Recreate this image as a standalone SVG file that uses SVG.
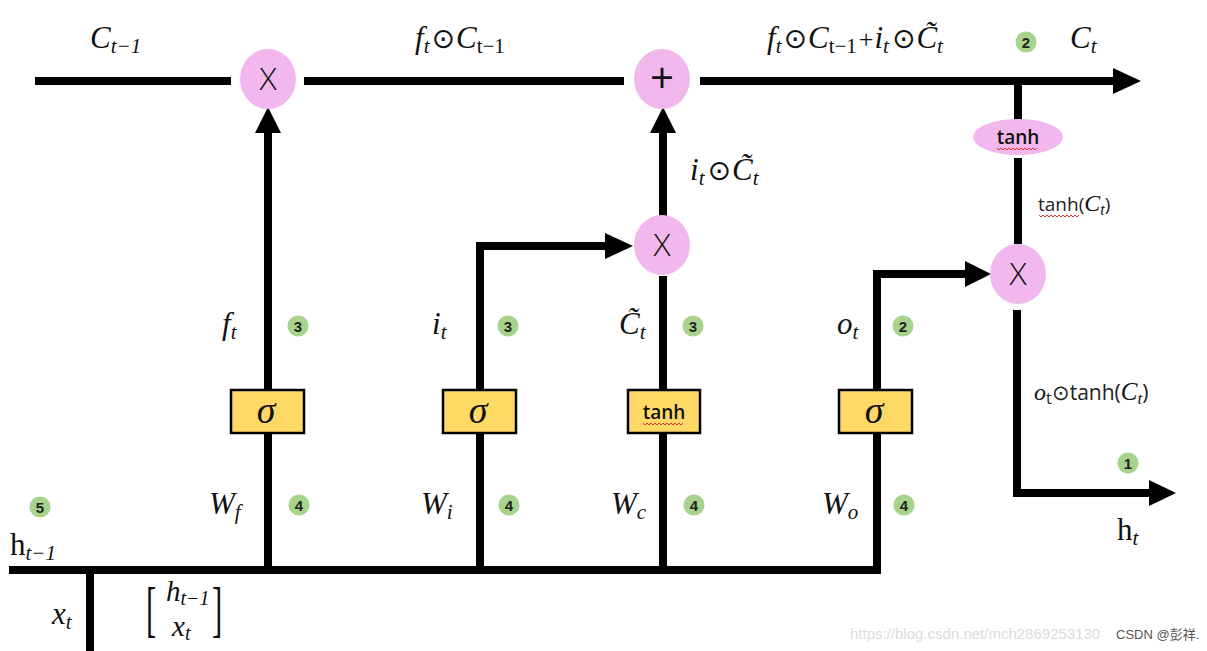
<svg xmlns="http://www.w3.org/2000/svg" width="1207" height="651" viewBox="0 0 1207 651">
<style>
.ln{stroke:#000;stroke-width:8;fill:none;stroke-linejoin:miter;stroke-linecap:butt}
.ah{fill:#000}
.op{fill:#f2b8ee}
.box{fill:#ffd966;stroke:#000;stroke-width:2.5}
.opt{font-family:"Open Sans","Liberation Sans",sans-serif;font-weight:300;font-size:32px;fill:#111;text-anchor:middle}
.m{font-family:"Liberation Serif","DejaVu Serif",serif;font-style:italic;font-size:31px;fill:#111}
.s{font-size:21px}
.up{font-style:normal}
.od{font-family:"DejaVu Sans",sans-serif;font-style:normal;font-size:28px}
.sig{font-family:"Liberation Serif","DejaVu Serif",serif;font-style:italic;font-size:38px;fill:#111;text-anchor:middle}
.tn{font-family:"Open Sans","Liberation Sans",sans-serif;font-weight:600;font-size:19px;fill:#111;text-anchor:middle}
.sn{font-family:"Open Sans","Liberation Sans",sans-serif;font-size:19px;fill:#222}
.g{fill:#a8d38d}
.gt{font-family:"Liberation Sans",Arial,sans-serif;font-weight:bold;font-size:15px;fill:#222;text-anchor:middle}
.wav{stroke:#e03030;stroke-width:1;fill:none}
</style>
<defs>
<path id="wv" d="M0,0 l2,2 l2,-2 l2,2 l2,-2 l2,2 l2,-2 l2,2 l2,-2 l2,2 l2,-2 l2,2 l2,-2 l2,2 l2,-2 l2,2 l2,-2 l2,2 l2,-2 l2,2 l2,-2"/>
</defs>

<g id="connectors">
  <line class="ln" x1="35" y1="81" x2="231" y2="81"/>
  <line class="ln" x1="304" y1="81" x2="624" y2="81"/>
  <line class="ln" x1="700" y1="81" x2="1114" y2="81"/>
  <polygon class="ah" points="1113,68 1141,81 1113,94"/>
  <line class="ln" x1="268" y1="570" x2="268" y2="132"/>
  <polygon class="ah" points="255,133 268,107 281,133"/>
  <polyline class="ln" points="480,570 480,246 606,246"/>
  <polygon class="ah" points="605,233 633,246 605,259"/>
  <line class="ln" x1="663" y1="570" x2="663" y2="276"/>
  <line class="ln" x1="663" y1="216" x2="663" y2="132"/>
  <polygon class="ah" points="650,133 663,107 676,133"/>
  <polyline class="ln" points="9,570 877,570 877,274 966,274"/>
  <polygon class="ah" points="965,261 991,274 965,287"/>
  <line class="ln" x1="90" y1="570" x2="90" y2="651"/>
  <line class="ln" x1="1018" y1="81" x2="1018" y2="121"/>
  <line class="ln" x1="1018" y1="158" x2="1018" y2="244"/>
  <polyline class="ln" points="1017,310 1017,493 1150,493"/>
  <polygon class="ah" points="1149,480 1176,493 1149,506"/>
</g>

<g id="mul-forget">
  <ellipse class="op" cx="268" cy="79" rx="28" ry="30"/>
  <text class="opt" x="268" y="90">X</text>
</g>
<g id="add-cell">
  <ellipse class="op" cx="662" cy="79" rx="28" ry="30"/>
  <text class="opt" x="662" y="93" style="font-size:42px;font-weight:400">+</text>
</g>
<g id="mul-input">
  <ellipse class="op" cx="662" cy="245" rx="28" ry="30"/>
  <text class="opt" x="662" y="256">X</text>
</g>
<g id="mul-output">
  <ellipse class="op" cx="1018" cy="274" rx="28" ry="30"/>
  <text class="opt" x="1018" y="285">X</text>
</g>
<g id="tanh-cell">
  <ellipse class="op" cx="1018" cy="137" rx="45" ry="18"/>
  <text class="tn" x="1018" y="144">tanh</text>
  <use href="#wv" x="997" y="148" class="wav"/>
</g>
<g id="sigma-f">
  <rect class="box" x="231" y="390" width="73" height="43"/>
  <text class="sig" x="266" y="423">σ</text>
</g>
<g id="sigma-i">
  <rect class="box" x="443" y="390" width="73" height="43"/>
  <text class="sig" x="478" y="423">σ</text>
</g>
<g id="tanh-c">
  <rect class="box" x="628" y="390" width="72" height="43"/>
  <text class="tn" x="664" y="419">tanh</text>
  <use href="#wv" x="643" y="423" class="wav"/>
</g>
<g id="sigma-o">
  <rect class="box" x="839" y="390" width="73" height="43"/>
  <text class="sig" x="874" y="423">σ</text>
</g>

<g id="labels">
  <text class="m" x="90" y="48">C<tspan class="s" dy="5">t−1</tspan></text>
  <text class="m" x="415" y="48">f<tspan class="s" dy="5">t</tspan><tspan dy="-5" dx="2" class="od">⊙</tspan><tspan dx="1">C</tspan><tspan class="s up" dy="5">t−1</tspan></text>
  <text class="m" x="767" y="48">f<tspan class="s" dy="5">t</tspan><tspan dy="-5" dx="2" class="od">⊙</tspan><tspan dx="1">C</tspan><tspan class="s up" dy="5">t−1</tspan><tspan dy="-5" dx="2" class="up" style="font-size:26px">+</tspan><tspan dx="1">i</tspan><tspan class="s" dy="5">t</tspan><tspan dy="-5" dx="3" class="od">⊙</tspan><tspan dx="1">C̃</tspan><tspan class="s" dy="5">t</tspan></text>
  <text class="m" x="1070" y="48">C<tspan class="s" dy="5">t</tspan></text>
  <text class="m" x="690" y="180">i<tspan class="s" dy="5">t</tspan><tspan dy="-5" dx="3" class="od">⊙</tspan><tspan dx="1">C̃</tspan><tspan class="s" dy="5">t</tspan></text>
  <text class="sn" x="1038" y="211">tanh(<tspan class="m" style="font-size:24px">C</tspan><tspan class="m" dy="4" style="font-size:16px">t</tspan><tspan dy="-4">)</tspan></text>
  <use href="#wv" x="1039" y="215" class="wav"/>
  <text class="m" x="222" y="334">f<tspan class="s" dy="5">t</tspan></text>
  <text class="m" x="432" y="334">i<tspan class="s" dy="5">t</tspan></text>
  <text class="m" x="619" y="334">C̃<tspan class="s" dy="5">t</tspan></text>
  <text class="m" x="837" y="334">o<tspan class="s" dy="5">t</tspan></text>
  <text class="m" x="209" y="514">W<tspan class="s" dy="5">f</tspan></text>
  <text class="m" x="421" y="514">W<tspan class="s" dy="5">i</tspan></text>
  <text class="m" x="611" y="514">W<tspan class="s" dy="5">c</tspan></text>
  <text class="m" x="822" y="514">W<tspan class="s" dy="5">o</tspan></text>
  <text class="m" x="10" y="555"><tspan class="up">h</tspan><tspan class="s" dy="5">t−1</tspan></text>
  <text class="m" x="52" y="624">x<tspan class="s" dy="5">t</tspan></text>
  <text class="m up" x="0" y="0" transform="translate(146,630) scale(1,2)" style="font-weight:300">[</text>
  <text class="m" x="166" y="601" style="font-size:29px">h<tspan class="s" dy="4" style="font-size:20px">t−1</tspan></text>
  <text class="m" x="172" y="636" style="font-size:29px">x<tspan class="s" dy="4" style="font-size:20px">t</tspan></text>
  <text class="m up" x="0" y="0" transform="translate(212,630) scale(1,2)" style="font-weight:300">]</text>
  <text class="sn" x="1034" y="400" style="font-size:21px"><tspan class="m" style="font-size:24px">o</tspan><tspan dy="4" style="font-size:16px">t</tspan><tspan dy="-4">⊙tanh(</tspan><tspan class="m" style="font-size:25px">C</tspan><tspan class="m" dy="4" style="font-size:17px">t</tspan><tspan dy="-4">)</tspan></text>
  <text class="m" x="1117" y="540"><tspan class="up">h</tspan><tspan class="s" dy="5">t</tspan></text>
</g>

<g id="steps">
  <circle class="g" cx="1026" cy="42" r="10.5"/><text class="gt" x="1026" y="47.5">2</text>
  <circle class="g" cx="298" cy="326" r="10.5"/><text class="gt" x="298" y="331.5">3</text>
  <circle class="g" cx="508" cy="326" r="10.5"/><text class="gt" x="508" y="331.5">3</text>
  <circle class="g" cx="693" cy="326" r="10.5"/><text class="gt" x="693" y="331.5">3</text>
  <circle class="g" cx="903" cy="326" r="10.5"/><text class="gt" x="903" y="331.5">2</text>
  <circle class="g" cx="299" cy="505" r="10.5"/><text class="gt" x="299" y="510.5">4</text>
  <circle class="g" cx="509" cy="505" r="10.5"/><text class="gt" x="509" y="510.5">4</text>
  <circle class="g" cx="694" cy="505" r="10.5"/><text class="gt" x="694" y="510.5">4</text>
  <circle class="g" cx="904" cy="505" r="10.5"/><text class="gt" x="904" y="510.5">4</text>
  <circle class="g" cx="40" cy="507" r="10.5"/><text class="gt" x="40" y="512.5">5</text>
  <circle class="g" cx="1128" cy="463" r="10.5"/><text class="gt" x="1128" y="468.5">1</text>
</g>

<g id="watermark">
  <text x="850" y="639" style="font-family:'Liberation Sans',Arial,sans-serif;font-size:15px;fill:#dcdcdc">https://blog.csdn.net/mch2869253130</text>
  <text x="1116" y="639" style="font-family:'Liberation Sans','Noto Sans CJK SC',sans-serif;font-size:13px;fill:#555">CSDN @彭祥.</text>
</g>
</svg>
